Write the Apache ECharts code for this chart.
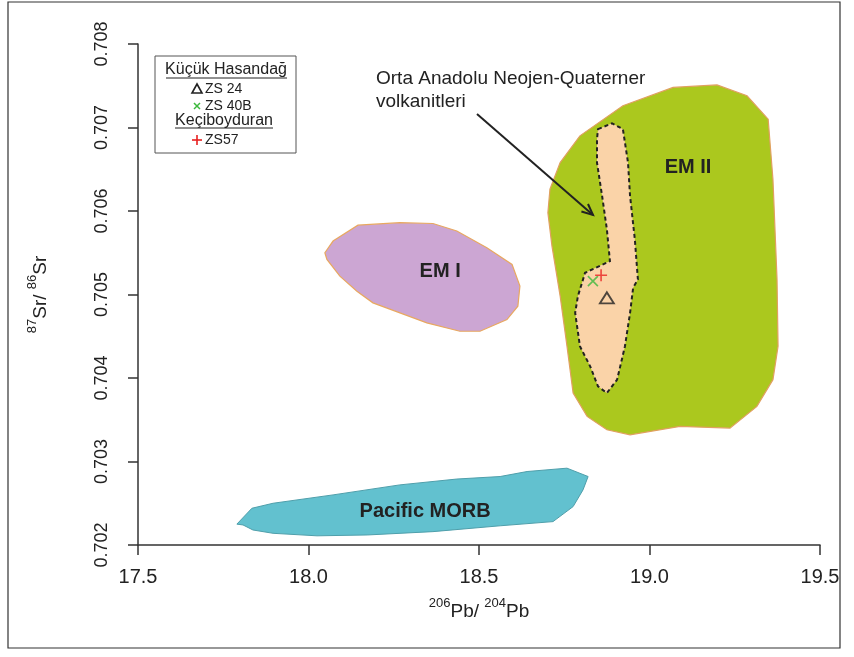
<!DOCTYPE html>
<html>
<head>
<meta charset="utf-8">
<script src="https://cdn.jsdelivr.net/npm/echarts@6/dist/echarts.min.js"></script>
<style>html,body{margin:0;padding:0;background:#fff;}#c{width:854px;height:657px;}</style>
</head>
<body>
<div id="c"></div>
<script>
// ---- data ----
const xTickLabels = ['17.5', '18.0', '18.5', '19.0', '19.5'];
const yTickLabels = ['0.702', '0.703', '0.704', '0.705', '0.706', '0.707', '0.708'];

const emII = [[18.708,0.70626],[18.738,0.70658],[18.796,0.70690],[18.922,0.70726],[19.069,0.70748],[19.198,0.70751],[19.286,0.70738],[19.348,0.70710],[19.362,0.70638],[19.374,0.70518],[19.377,0.70438],[19.362,0.70398],[19.315,0.70366],[19.236,0.70340],[19.089,0.70342],[18.943,0.70332],[18.875,0.70338],[18.817,0.70354],[18.776,0.70382],[18.758,0.70438],[18.738,0.70498],[18.714,0.70558],[18.702,0.70598]];
const ortaAnadolu = [[18.849,0.70698],[18.890,0.70705],[18.922,0.70698],[18.937,0.70658],[18.943,0.70618],[18.957,0.70566],[18.966,0.70518],[18.952,0.70508],[18.943,0.70478],[18.928,0.70438],[18.905,0.70398],[18.875,0.70382],[18.849,0.70390],[18.826,0.70414],[18.796,0.70438],[18.782,0.70478],[18.790,0.70498],[18.811,0.70526],[18.884,0.70540],[18.875,0.70578],[18.861,0.70618],[18.846,0.70658],[18.846,0.70686]];
const emI = [[18.048,0.70550],[18.072,0.70564],[18.145,0.70583],[18.268,0.70586],[18.365,0.70585],[18.435,0.70576],[18.523,0.70556],[18.597,0.70536],[18.620,0.70510],[18.614,0.70486],[18.582,0.70470],[18.503,0.70456],[18.444,0.70456],[18.347,0.70466],[18.268,0.70478],[18.189,0.70490],[18.142,0.70504],[18.092,0.70522],[18.054,0.70542]];
const pacificMORB = [[17.790,0.70225],[17.834,0.70244],[17.896,0.70250],[18.072,0.70260],[18.268,0.70272],[18.435,0.70279],[18.562,0.70282],[18.641,0.70288],[18.758,0.70292],[18.820,0.70282],[18.805,0.70266],[18.776,0.70246],[18.717,0.70228],[18.562,0.70223],[18.365,0.70216],[18.172,0.70212],[18.025,0.70211],[17.896,0.70214],[17.837,0.70218],[17.808,0.70224]];

const zs24 = [[18.875, 0.70496]];
const zs40B = [[18.834, 0.70516]];
const zs57 = [[18.858, 0.70523]];

// ---- chart ----
const FONT = 'Liberation Sans, Arial, sans-serif';
const chart = echarts.init(document.getElementById('c'), null, {renderer: 'canvas'});

function polySeries(name, pts, style, label, labelPos) {
  return {
    type: 'custom', name: name, data: pts, silent: true,
    encode: {x: 0, y: 1},
    renderItem: function (params, api) {
      if (params.dataIndex !== 0) return null;
      const points = pts.map(p => api.coord(p));
      const children = [{type: 'polygon', shape: {points: points}, style: style}];
      if (label) {
        const c = api.coord(labelPos);
        children.push({type: 'text', x: c[0], y: c[1], style: {text: label, fill: '#222', font: 'bold 20px ' + FONT, align: 'center', verticalAlign: 'middle'}});
      }
      return {type: 'group', children: children};
    }
  };
}

const crossPath = 'path://M0,0L10,10M10,0L0,10';
const plusPath = 'path://M5,0L5,10M0,5L10,5';

// arrow geometry (annotation pointer)
const a0 = [477, 114], a1 = [593, 215];
const dx = a1[0] - a0[0], dy = a1[1] - a0[1], L = Math.hypot(dx, dy);
const ux = dx / L, uy = dy / L, hl = 11, hw = 5;
const w1 = [a1[0] - ux * hl - uy * hw, a1[1] - uy * hl + ux * hw];
const w2 = [a1[0] - ux * hl + uy * hw, a1[1] - uy * hl - ux * hw];

const option = {
  backgroundColor: '#ffffff',
  animation: false,
  grid: {left: 138, right: 34, top: 44, bottom: 112},
  xAxis: {
    type: 'value', min: 17.5, max: 19.5, interval: 0.5,
    name: '{sup|206}{n|Pb/ }{sup|204}{n|Pb}',
    nameLocation: 'middle', nameGap: 52,
    nameTextStyle: {rich: {
      n: {fontFamily: FONT, fontSize: 19, color: '#222', lineHeight: 24, verticalAlign: 'bottom'},
      sup: {fontFamily: FONT, fontSize: 13, color: '#222', lineHeight: 24, verticalAlign: 'top', padding: [0, 0, 8, 0]}
    }},
    axisLine: {show: true, lineStyle: {color: '#333', width: 1.5}},
    axisTick: {show: true, length: 10, inside: false, lineStyle: {color: '#333', width: 1.5}},
    axisLabel: {fontFamily: FONT, fontSize: 20, color: '#222', margin: 22,
      formatter: function (v) { const i = Math.round((v - 17.5) / 0.5); return xTickLabels[i]; }},
    splitLine: {show: false}
  },
  yAxis: {
    type: 'value', min: 0.702, max: 0.708, interval: 0.001,
    name: '{sup|87}{n|Sr/ }{sup|86}{n|Sr}',
    nameLocation: 'middle', nameGap: 88, nameRotate: 90,
    nameTextStyle: {rich: {
      n: {fontFamily: FONT, fontSize: 19, color: '#222', lineHeight: 24, verticalAlign: 'bottom'},
      sup: {fontFamily: FONT, fontSize: 13, color: '#222', lineHeight: 24, verticalAlign: 'top', padding: [0, 0, 8, 0]}
    }},
    axisLine: {show: true, lineStyle: {color: '#333', width: 1.5}},
    axisTick: {show: true, length: 10, inside: false, lineStyle: {color: '#333', width: 1.5}},
    axisLabel: {fontFamily: FONT, fontSize: 18, color: '#222', rotate: 90, margin: 27,
      formatter: function (v) { const i = Math.round((v - 0.702) / 0.001); return yTickLabels[i]; }},
    splitLine: {show: false}
  },
  series: [
    polySeries('Pacific MORB', pacificMORB, {fill: '#62c1cf', stroke: '#4f9fab', lineWidth: 1}, 'Pacific MORB', [18.342, 0.70240]),
    polySeries('EM I', emI, {fill: '#cca6d3', stroke: '#e8a860', lineWidth: 1.2}, 'EM I', [18.386, 0.70528]),
    polySeries('EM II', emII, {fill: '#abc81e', stroke: '#e0a060', lineWidth: 1.2}, 'EM II', [19.113, 0.70652]),
    polySeries('Orta Anadolu Neojen-Quaterner volkanitleri', ortaAnadolu, {fill: '#fad3a8', stroke: '#222', lineWidth: 2, lineDash: [4, 3]}, null, null),
    {type: 'scatter', name: 'ZS 24', data: zs24, symbol: 'triangle', symbolSize: [14, 11],
      itemStyle: {color: 'none', borderColor: '#222', borderWidth: 1.8}, z: 5},
    {type: 'scatter', name: 'ZS 40B', data: zs40B, symbol: crossPath, symbolSize: 10,
      itemStyle: {color: 'none', borderColor: '#3cb83c', borderWidth: 1.6}, z: 5},
    {type: 'scatter', name: 'ZS57', data: zs57, symbol: plusPath, symbolSize: 12,
      itemStyle: {color: 'none', borderColor: '#e82020', borderWidth: 1.6}, z: 6}
  ],
  graphic: [
    // outer frame
    {type: 'rect', shape: {x: 8, y: 2, width: 832, height: 646}, style: {fill: 'none', stroke: '#333', lineWidth: 1.2}, z: 100},
    // annotation
    {type: 'text', x: 376, y: 79, style: {text: 'Orta Anadolu Neojen-Quaterner', font: '19px ' + FONT, fill: '#222', verticalAlign: 'middle'}, z: 50},
    {type: 'text', x: 376, y: 102, style: {text: 'volkanitleri', font: '19px ' + FONT, fill: '#222', verticalAlign: 'middle'}, z: 50},
    {type: 'polyline', shape: {points: [a0, a1]}, style: {stroke: '#222', lineWidth: 2}, z: 50},
    {type: 'polyline', shape: {points: [w1, a1, w2]}, style: {stroke: '#222', lineWidth: 2, fill: 'none'}, z: 50},
    // legend box
    {type: 'rect', shape: {x: 155, y: 56, width: 141, height: 97}, style: {fill: '#fff', stroke: '#555', lineWidth: 1}, z: 60},
    {type: 'text', x: 226, y: 70, style: {text: 'Küçük Hasandağ', font: '16px ' + FONT, fill: '#222', align: 'center', verticalAlign: 'middle'}, z: 61},
    {type: 'line', shape: {x1: 166, y1: 78, x2: 287, y2: 78}, style: {stroke: '#222', lineWidth: 1}, z: 61},
    {type: 'polygon', shape: {points: [[197, 84], [202, 93], [192, 93]]}, style: {fill: 'none', stroke: '#222', lineWidth: 1.6}, z: 61},
    {type: 'text', x: 205, y: 89, style: {text: 'ZS 24', font: '14px ' + FONT, fill: '#222', verticalAlign: 'middle'}, z: 61},
    {type: 'polyline', shape: {points: [[194, 103], [200, 109]]}, style: {stroke: '#3cb83c', lineWidth: 1.5}, z: 61},
    {type: 'polyline', shape: {points: [[200, 103], [194, 109]]}, style: {stroke: '#3cb83c', lineWidth: 1.5}, z: 61},
    {type: 'text', x: 205, y: 106, style: {text: 'ZS 40B', font: '14px ' + FONT, fill: '#222', verticalAlign: 'middle'}, z: 61},
    {type: 'text', x: 224, y: 121, style: {text: 'Keçiboyduran', font: '16px ' + FONT, fill: '#222', align: 'center', verticalAlign: 'middle'}, z: 61},
    {type: 'line', shape: {x1: 175, y1: 128, x2: 273, y2: 128}, style: {stroke: '#222', lineWidth: 1}, z: 61},
    {type: 'polyline', shape: {points: [[197, 135], [197, 145]]}, style: {stroke: '#e82020', lineWidth: 1.6}, z: 61},
    {type: 'polyline', shape: {points: [[192, 140], [202, 140]]}, style: {stroke: '#e82020', lineWidth: 1.6}, z: 61},
    {type: 'text', x: 205, y: 140, style: {text: 'ZS57', font: '14px ' + FONT, fill: '#222', verticalAlign: 'middle'}, z: 61}
  ]
};
chart.setOption(option);
</script>
</body>
</html>
